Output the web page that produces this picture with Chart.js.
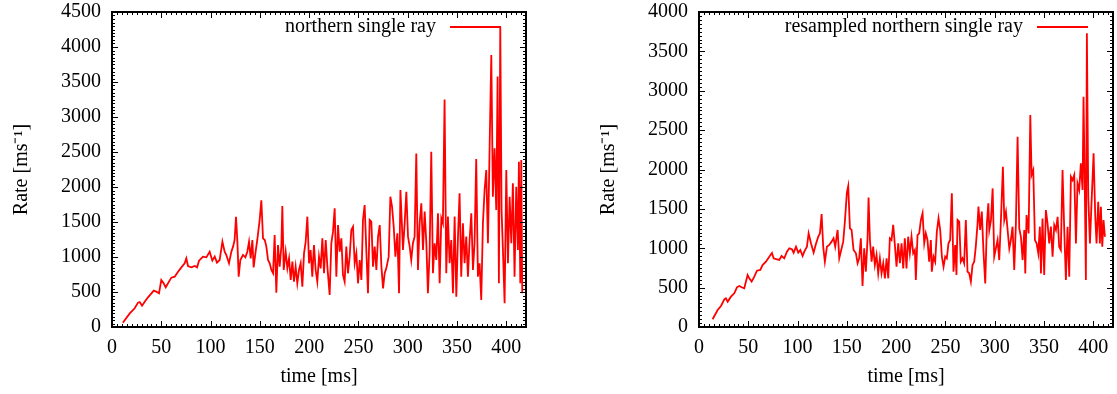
<!doctype html>
<html>
<head>
<title>Rate vs time</title>
<script src="https://cdn.jsdelivr.net/npm/chart.js@4/dist/chart.umd.min.js"></script>
<style>
body { margin: 0; background: #fff; }
.panel { position: absolute; top: 0; width: 530px; height: 394px; }
</style>
</head>
<body>
<div class="panel" style="left:0"><canvas id="left" width="530" height="394"></canvas></div>
<div class="panel" style="left:587px"><canvas id="right" width="530" height="394"></canvas></div>
<script>
// northern single ray (raw), time in ms, rate in 1/ms
const rawTime = [11, 18, 23, 26.4, 28.1, 30.5, 33.2, 36.5, 40, 42.3, 45, 47.7, 50, 52.4, 54.5, 57.8, 60.2, 63.6, 67, 70.4,
	73.7, 75.4, 77.1, 80.5, 84, 86.3, 88.3, 92.3, 95.7, 99.1, 101.8, 104.2, 106.5, 109.2, 112, 114.3, 116, 118.7, 121.1, 122.8,
	124.4, 125.8, 127.2, 128.5, 130.2, 132.9, 135.3, 137.3, 139, 140.7, 142.4, 143.7, 145.7, 147.4, 149.8, 151.5, 153.2, 155, 156.6, 158.3,
	160, 161.7, 163.4, 165, 166.7, 168.4, 170.1, 171.8, 172.8, 174.2, 176.2, 177.9, 179.6, 181.3, 183, 184.6, 186.3, 188, 189.7, 191.4,
	193.1, 194.8, 196.5, 198.2, 199.9, 201.5, 203.2, 204.9, 206.6, 208.3, 210, 211.7, 213.4, 215.1, 216.8, 218.5, 220.8, 222.5, 224.2, 225.9,
	227.6, 229.3, 231, 232.7, 234.3, 236, 237.7, 239.4, 241.1, 242.8, 244.5, 246.2, 247.9, 249.6, 251.3, 253, 254.6, 256.3, 258, 259.7,
	261.4, 263.1, 264.8, 266.5, 268.2, 269.9, 271.6, 273.3, 275, 276.6, 278.3, 280.7, 282.4, 284.1, 285.8, 287.5, 289.5, 291.2, 292.6, 295.2,
	296.9, 298.6, 300.3, 302, 303.6, 305.3, 307, 308.7, 310.4, 312.1, 313.8, 315.5, 317.2, 318.9, 320.5, 322.2, 323.9, 325.6, 327.3, 329,
	330.7, 332.4, 334.1, 335.7, 337.4, 339.1, 340.8, 342.5, 344.2, 345.9, 347.6, 349.3, 351, 352.6, 354.3, 356, 357.7, 359.4, 361.1, 362.8,
	364.5, 366.2, 367.8, 369.5, 371.2, 372.9, 374.6, 376.3, 378, 379.7, 381.4, 383.1, 384.8, 386.4, 388.1, 389.8, 391.2, 392.5, 393.9, 395.2,
	396.6, 398.3, 400, 401.7, 403.4, 405.1, 406.7, 408.4, 410.1, 411.8, 412.8, 414.2, 415.2, 416.2];
const rawRate = [60, 195, 267, 348, 357, 305, 362, 424, 481, 519, 505, 481, 671, 624, 567, 648, 705, 719, 790, 852,
	910, 981, 871, 852, 871, 852, 948, 1005, 995, 1076, 948, 1005, 919, 957, 1219, 1076, 1029, 910, 1076, 1148,
	1243, 1576, 1219, 719, 957, 1029, 995, 1076, 1219, 981, 1243, 852, 1076, 1243, 1529, 1810, 1267, 1243, 1148, 957,
	910, 814, 767, 1314, 491, 1172, 862, 1148, 1729, 814, 1076, 838, 981, 671, 933, 648, 862, 624, 814, 910,
	576, 1052, 1219, 1576, 910, 1100, 719, 1172, 814, 648, 1005, 838, 1267, 767, 1243, 862, 457, 1195, 1362, 1695,
	719, 1457, 1076, 1267, 743, 648, 1148, 767, 1005, 1386, 1433, 910, 1052, 624, 957, 671, 1529, 1743, 1100, 481,
	1529, 1505, 862, 1148, 814, 1290, 1457, 862, 552, 767, 838, 1005, 1862, 1719, 1433, 1005, 1338, 481, 1957, 1100,
	1481, 1933, 1291, 1148, 957, 1196, 1291, 2480, 815, 1481, 1767, 1100, 1648, 1196, 481, 1053, 2505, 767, 1196, 957,
	1624, 624, 1553, 1481, 3250, 767, 1577, 910, 1243, 481, 1577, 434, 1291, 1910, 719, 1481, 910, 1291, 719, 1243,
	1624, 815, 1196, 2400, 719, 910, 386, 1481, 1957, 2243, 1196, 2577, 3886, 1862, 2553, 1672, 3577, 624, 4290, 1672,
	1100, 338, 2243, 910, 1862, 1196, 2053, 719, 2005, 1100, 2362, 624, 2386, 481];

// resampled northern single ray
const resTime = [13.8, 18.9, 22.3, 25.7, 27.3, 29.1, 32.4, 35.8, 38.5, 40.9, 43.2, 45.9, 49.3, 51, 53.4, 56.1, 58.8, 62.2, 64.5, 67.9,
	71.3, 74, 75.7, 79.1, 81.4, 83.8, 86.5, 89.2, 91.6, 94.3, 96, 98.4, 100.7, 102.8, 105.1, 106.8, 109.5, 111.2, 113.6, 116.3,
	118.6, 121, 122.7, 124.4, 126, 127.7, 129.8, 132.1, 134.5, 136.5, 138.2, 140.6, 142.3, 143.9, 146.3, 148, 150, 151.4, 153.1, 154.8,
	156.8, 159.2, 160.9, 162.5, 164.2, 165.9, 167.6, 169.3, 171, 172, 173.4, 175.1, 176.7, 178.4, 180.1, 181.8, 183.5, 185.2, 186.9, 188.6,
	190.3, 192, 193.6, 195.3, 197, 198.7, 200.4, 202.1, 203.8, 205.5, 207.2, 208.8, 210.5, 212.2, 213.9, 215.6, 217.3, 219, 220, 221.7,
	223.4, 225.1, 226.8, 228.5, 230.1, 231.8, 233.5, 235.2, 236.2, 237.9, 239.6, 241.3, 243, 244.7, 246.4, 248.1, 249.8, 251.4, 253.1, 254.8,
	256.5, 258.2, 259.9, 261.2, 262.3, 264, 265.6, 267.3, 269, 270.7, 272.4, 274.1, 275.8, 277.5, 279.2, 280.8, 282.5, 283.5, 285.2, 286.9,
	288.6, 290.4, 292.1, 293.5, 294.5, 296.2, 297.9, 299.5, 301.2, 302.9, 304.6, 306.3, 308.3, 309.7, 311.4, 313.1, 314.8, 316.4, 318.1, 319.8,
	321.5, 323.2, 324.9, 326.6, 328.3, 330, 331, 332.3, 334.4, 336.1, 337.4, 339.1, 340.8, 342.5, 344.2, 345.8, 346.9, 348.5, 350.2, 351.9,
	353.6, 355.3, 357, 358.7, 360.4, 362.1, 363.8, 365.4, 367.1, 368.8, 370.5, 372.2, 373.9, 375.6, 377.3, 379, 380.7, 382.4, 384, 385.7,
	387.4, 389.1, 390.1, 391.5, 392.5, 393.5, 394.9, 396.6, 398.2, 400.3, 402, 403.3, 405, 406.7, 407.7, 409.1, 410.4, 411.8];
const resRate = [98, 216, 267, 351, 364, 322, 385, 428, 504, 521, 504, 491, 660, 618, 576, 639, 715, 724, 787, 830,
	893, 940, 872, 860, 851, 902, 872, 957, 999, 987, 944, 1020, 944, 978, 902, 957, 1020, 1190, 1063, 944,
	1054, 1147, 1190, 1435, 1020, 830, 1020, 1042, 1084, 1126, 1020, 1232, 872, 957, 1084, 1338, 1706, 1790, 1253, 1232,
	978, 936, 809, 872, 1126, 521, 999, 703, 1126, 1645, 1105, 830, 1020, 788, 915, 682, 872, 682, 809, 618,
	872, 618, 1126, 1105, 1296, 1042, 766, 1063, 809, 1063, 745, 1126, 745, 1147, 936, 1147, 936, 978, 597, 1168,
	1190, 1359, 1444, 1063, 1190, 1105, 830, 1105, 703, 894, 830, 1211, 1380, 1232, 894, 766, 894, 872, 1063, 1105,
	1698, 703, 1042, 661, 1359, 1338, 830, 872, 809, 1359, 703, 682, 576, 788, 830, 1020, 1296, 1528, 1232, 1465,
	957, 554, 1316, 1570, 1231, 1358, 1760, 893, 998, 1104, 850, 1358, 2036, 1358, 1464, 1231, 998, 1104, 1274, 723,
	1316, 2416, 1252, 1146, 850, 1231, 681, 1422, 1189, 2692, 1930, 1993, 1104, 1062, 935, 1274, 681, 1379, 660, 1485,
	1316, 1062, 1274, 893, 1295, 1231, 1400, 1020, 977, 1993, 1252, 596, 1274, 638, 1908, 1866, 1930, 1062, 1824, 1739,
	2078, 1739, 2924, 1654, 596, 3729, 1654, 1062, 1570, 2205, 1400, 1062, 1591, 1062, 1528, 1020, 1358, 1146];

const xMax = 420;
const xTickValues = [0, 50, 100, 150, 200, 250, 300, 350, 400];
const yTicksLeft = [0, 500, 1000, 1500, 2000, 2500, 3000, 3500, 4000, 4500];
const yTicksRight = [0, 500, 1000, 1500, 2000, 2500, 3000, 3500, 4000];

const FONT = "'Liberation Serif', 'Times New Roman', serif";
const FSIZE = 20;

// gnuplot-like border with inward major/minor ticks and a "text then line" key
const gnuFrame = {
	id: 'gnuFrame',
	afterDatasetsDraw(chart) {
		const {ctx, chartArea: a} = chart;
		const x = chart.scales.x;
		const y = chart.scales.y;
		ctx.save();
		ctx.strokeStyle = '#000';
		ctx.lineWidth = 1;
		ctx.beginPath();
		for (let v = 0; v <= x.max + 0.001; v += 5) {
			const px = Math.round(x.getPixelForValue(v)) + 0.5;
			const len = v % 50 === 0 ? 6 : 3;
			ctx.moveTo(px, a.bottom); ctx.lineTo(px, a.bottom - len);
			ctx.moveTo(px, a.top); ctx.lineTo(px, a.top + len);
		}
		for (let v = 0; v <= y.max + 0.001; v += 50) {
			const py = Math.round(y.getPixelForValue(v)) + 0.5;
			const len = v % 500 === 0 ? 6 : 3;
			ctx.moveTo(a.left, py); ctx.lineTo(a.left + len, py);
			ctx.moveTo(a.right, py); ctx.lineTo(a.right - len, py);
		}
		ctx.stroke();
		ctx.lineWidth = 2;
		ctx.strokeRect(a.left, a.top, a.width, a.height);

		// key
		const ds = chart.data.datasets[0];
		const ky = a.top + 15;
		ctx.font = FSIZE + 'px ' + FONT;
		ctx.fillStyle = '#000';
		ctx.textAlign = 'right';
		ctx.textBaseline = 'middle';
		ctx.fillText(ds.label, a.right - 90, ky);
		ctx.strokeStyle = ds.borderColor;
		ctx.lineWidth = 1.8;
		ctx.beginPath();
		ctx.moveTo(a.right - 76, ky);
		ctx.lineTo(a.right - 25, ky);
		ctx.stroke();
		ctx.restore();
	}
};

function makeChart(id, label, times, rates, yTicks) {
	const points = times.map((t, i) => ({x: t, y: rates[i]}));
	return new Chart(document.getElementById(id), {
		type: 'line',
		data: {
			datasets: [{
				label: label,
				data: points,
				borderColor: '#ff0000',
				borderWidth: 1.8,
				pointRadius: 0,
				tension: 0,
				fill: false
			}]
		},
		options: {
			responsive: false,
			animation: false,
			devicePixelRatio: 1,
			layout: {padding: {top: 12, right: 4, left: 0, bottom: 0}},
			plugins: {
				legend: {display: false},
				tooltip: {enabled: false}
			},
			scales: {
				x: {
					type: 'linear',
					min: 0,
					max: xMax,
					grid: {display: false, drawTicks: false},
					border: {display: false},
					afterBuildTicks(scale) { scale.ticks = xTickValues.map((v) => ({value: v})); },
					ticks: {
						autoSkip: false,
						padding: 9,
						color: '#000',
						maxRotation: 0,
						font: {family: FONT, size: FSIZE},
						callback: (v) => String(v)
					},
					title: {
						display: true,
						text: 'time [ms]',
						color: '#000',
						font: {family: FONT, size: FSIZE},
						padding: {top: 0, bottom: 5}
					},
					afterFit(scale) {
						scale.height = 67;
						scale.paddingLeft = 0;
						scale.paddingRight = 0;
					}
				},
				y: {
					min: 0,
					max: yTicks[yTicks.length - 1],
					grid: {display: false, drawTicks: false},
					border: {display: false},
					afterBuildTicks(scale) { scale.ticks = yTicks.map((v) => ({value: v})); },
					ticks: {
						autoSkip: false,
						padding: 11,
						color: '#000',
						font: {family: FONT, size: FSIZE},
						callback: (v) => String(v)
					},
					title: {
						display: true,
						text: 'Rate [ms\u207B\u00B9]',
						color: '#000',
						font: {family: FONT, size: FSIZE},
						padding: {top: 10, bottom: 0}
					},
					afterFit(scale) {
						scale.width = 112;
						scale.paddingTop = 0;
						scale.paddingBottom = 0;
					}
				}
			}
		},
		plugins: [gnuFrame]
	});
}

makeChart('left', 'northern single ray', rawTime, rawRate, yTicksLeft);
makeChart('right', 'resampled northern single ray', resTime, resRate, yTicksRight);
</script>
</body>
</html>
